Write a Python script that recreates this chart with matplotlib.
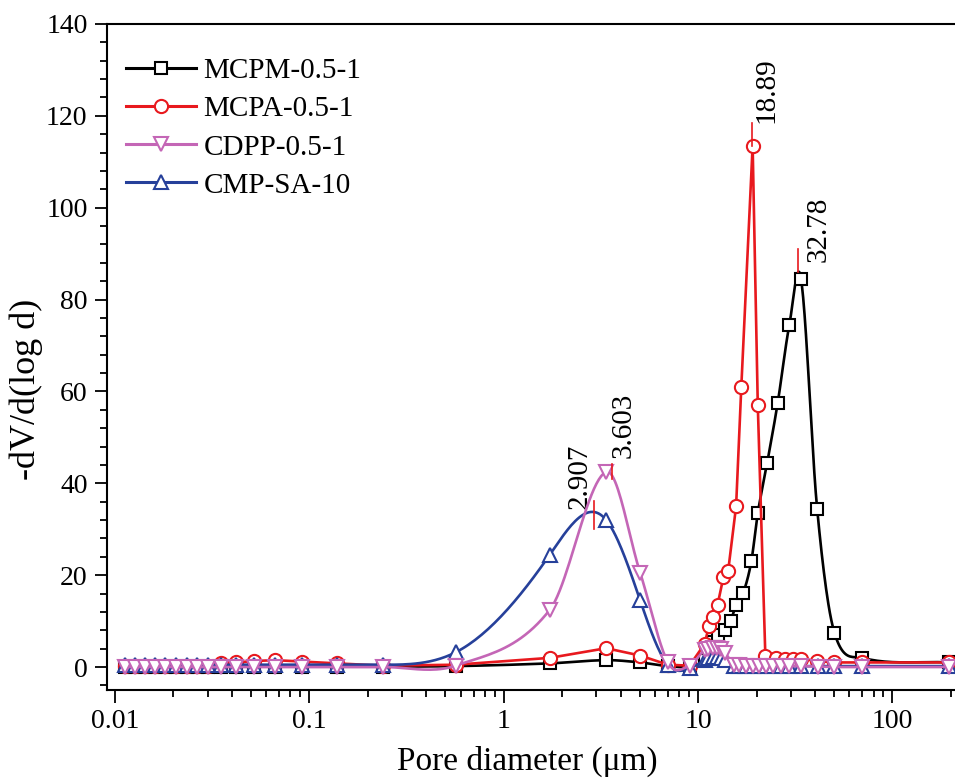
import numpy as np
import matplotlib
matplotlib.use("Agg")
import matplotlib.pyplot as plt
from matplotlib.lines import Line2D
from matplotlib.ticker import FixedLocator, MultipleLocator, LogLocator, NullFormatter

plt.rcParams['font.family'] = ['Liberation Serif', 'DejaVu Serif']

# pore diameters (um) shared by the low-pressure part of every run
d_low = [0.0113, 0.0127, 0.0143, 0.0161, 0.0181, 0.0206, 0.0234, 0.0264, 0.0301,
         0.0350, 0.0419, 0.0518, 0.0664, 0.0913, 0.138, 0.238, 0.566,
         1.73, 3.37, 5.04, 7.0, 9.04]

# MCPM-0.5-1
mcpm_d = d_low + [10.8, 11.4, 12.0, 12.6, 13.7, 14.7, 15.7, 17.1, 18.8, 20.3, 22.7,
                  25.7, 29.5, 33.9, 41.0, 50.3, 70.0, 195.0]
mcpm_v = [0.1] * 16 + [0.2, 0.8, 1.5, 1.0, 0.2, 0.1] + \
         [1.5, 4.5, 5.5, 7.0, 8.0, 10.0, 13.5, 16.2, 23.0, 33.5, 44.5,
          57.5, 74.5, 84.5, 34.5, 7.5, 2.0, 1.0]

# MCPA-0.5-1
mcpa_d = d_low + [10.8, 11.4, 12.0, 12.6, 13.5, 14.3, 15.7, 16.7, 19.1, 20.3, 22.2,
                  25.1, 27.9, 30.9, 33.9, 41.0, 50.3, 70.0, 195.0]
mcpa_v = [0.2] * 9 + [0.8, 1.0, 1.3, 1.5, 1.2, 0.8, 0.3, 0.5, 2.0, 4.1, 2.5, 0.5, 0.3] + \
         [5.0, 9.0, 11.0, 13.5, 19.5, 21.0, 35.0, 61.0, 113.5, 57.0, 2.5,
          2.0, 1.8, 1.8, 1.8, 1.3, 1.0, 1.0, 1.0]

# CDPP-0.5-1
cdpp_d = d_low + [10.8, 11.3, 11.9, 12.5, 13.1, 13.8, 15.4, 16.3, 17.7, 19.1, 20.7,
                  22.4, 24.3, 26.8, 29.5, 33.9, 41.3, 50.3, 70.0, 195.0]
cdpp_v = [0.0] * 16 + [0.3, 12.5, 42.5, 20.5, 1.0, 0.3] + \
         [3.8, 4.0, 4.1, 4.2, 4.0, 3.0, 0.5, 0.4, 0.3, 0.3, 0.3,
          0.3, 0.3, 0.3, 0.2, 0.2, 0.1, 0.0, 0.0, 0.0]

# CMP-SA-10
cmp_d = cdpp_d
cmp_v = [0.5] * 16 + [3.2, 24.5, 32.0, 14.5, 0.5, -0.3] + \
        [1.5, 2.0, 2.2, 2.2, 2.0, 1.5, 0.2, 0.2, 0.2, 0.2, 0.2,
         0.2, 0.2, 0.2, 0.2, 0.2, 0.2, 0.2, 0.2, 0.2]

# peak labels: position (um), marker line bottom/top
peak_pos = [18.89, 32.78, 3.603, 2.907]
peak_lo = [113.5, 86.0, 40.9, 30.0]
peak_hi = [118.5, 91.0, 44.1, 36.2]
peak_txt = ['18.89', '32.78', '3.603', '2.907']


def cardinal(x, y, n=24):
    """Catmull-Rom curve through the points, in log-x space."""
    lx = np.log10(np.asarray(x, float))
    y = np.asarray(y, float)
    m = np.empty_like(y)
    m[1:-1] = (y[2:] - y[:-2]) / (lx[2:] - lx[:-2])
    m[0] = (y[1] - y[0]) / (lx[1] - lx[0])
    m[-1] = (y[-1] - y[-2]) / (lx[-1] - lx[-2])
    xs, ys = [], []
    t = np.linspace(0, 1, n)
    for i in range(len(lx) - 1):
        h = lx[i + 1] - lx[i]
        h00 = 2 * t**3 - 3 * t**2 + 1
        h10 = t**3 - 2 * t**2 + t
        h01 = -2 * t**3 + 3 * t**2
        h11 = t**3 - t**2
        xs.append(lx[i] + t * h)
        ys.append(h00 * y[i] + h10 * h * m[i] + h01 * y[i + 1] + h11 * h * m[i + 1])
    return 10 ** np.concatenate(xs), np.concatenate(ys)


def natural(x, y, n=30):
    """Natural cubic spline through the points, in log-x space."""
    lx = np.log10(np.asarray(x, float))
    y = np.asarray(y, float)
    k = len(lx)
    h = np.diff(lx)
    A = np.zeros((k, k))
    b = np.zeros(k)
    A[0, 0] = A[-1, -1] = 1.0
    for i in range(1, k - 1):
        A[i, i - 1] = h[i - 1]
        A[i, i] = 2 * (h[i - 1] + h[i])
        A[i, i + 1] = h[i]
        b[i] = 6 * ((y[i + 1] - y[i]) / h[i] - (y[i] - y[i - 1]) / h[i - 1])
    M = np.linalg.solve(A, b)
    xs, ys = [], []
    t = np.linspace(0, 1, n)
    for i in range(k - 1):
        xx = lx[i] + t * h[i]
        a = lx[i + 1] - xx
        c = xx - lx[i]
        yy = (M[i] * a**3 + M[i + 1] * c**3) / (6 * h[i]) \
            + (y[i] / h[i] - M[i] * h[i] / 6) * a \
            + (y[i + 1] / h[i] - M[i + 1] * h[i] / 6) * c
        xs.append(xx)
        ys.append(yy)
    return 10 ** np.concatenate(xs), np.concatenate(ys)


def straight(x, y):
    return x, y


fig = plt.figure(figsize=(9.55, 7.81), dpi=100)
ax = fig.add_axes([107 / 955, 1 - 690 / 781, 848 / 955, 666 / 781])

series = [
    ('MCPM-0.5-1', mcpm_d, mcpm_v, '#000000', 's', 8, cardinal),
    ('MCPA-0.5-1', mcpa_d, mcpa_v, '#e8191e', 'o', 9.5, straight),
    ('CMP-SA-10', cmp_d, cmp_v, '#26409a', '^', 10, natural),
    ('CDPP-0.5-1', cdpp_d, cdpp_v, '#c466b6', 'v', 10, cardinal),
]

handles = {}
for z, (name, xd, yd, col, mk, ms, curve) in enumerate(series):
    sx, sy = curve(xd, yd)
    ax.plot(sx, sy, color=col, lw=1.9, zorder=2 + z)
    ax.plot(xd, yd, ls='none', marker=mk, ms=ms, mfc='white', mec=col, mew=1.5,
            zorder=2 + z)
    handles[name] = Line2D([], [], color=col, lw=2.2, marker=mk, ms=ms,
                           mfc='white', mec=col, mew=1.5)

# peak markers and labels
for p, lo, hi in zip(peak_pos, peak_lo, peak_hi):
    ax.plot([p, p], [lo, hi], color='#e8191e', lw=1.2, zorder=8)

ax.annotate(peak_txt[0], (peak_pos[0], peak_hi[0]), xytext=(1, 0),
            textcoords='offset points', rotation=90, ha='left', va='bottom', fontsize=21)
ax.annotate(peak_txt[1], (peak_pos[1], peak_hi[1]), xytext=(5, -9),
            textcoords='offset points', rotation=90, ha='left', va='bottom', fontsize=21)
ax.annotate(peak_txt[2], (peak_pos[2], peak_hi[2]), xytext=(-1, 5),
            textcoords='offset points', rotation=90, ha='left', va='bottom', fontsize=21)
ax.annotate(peak_txt[3], (peak_pos[3], peak_hi[3]), xytext=(-1, -6),
            textcoords='offset points', rotation=90, ha='right', va='bottom', fontsize=21)

order = ['MCPM-0.5-1', 'MCPA-0.5-1', 'CDPP-0.5-1', 'CMP-SA-10']
ax.legend([handles[k] for k in order], order, loc='upper left',
          bbox_to_anchor=(19 / 848, 1 - 34 / 666), frameon=False, fontsize=21,
          numpoints=1, handlelength=2.4, handletextpad=0.25, labelspacing=0.4,
          borderpad=0, borderaxespad=0)

ax.set_xscale('log')
ax.set_xlim(0.0091, 210)
ax.set_ylim(-5, 140)
ax.xaxis.set_major_locator(FixedLocator([0.01, 0.1, 1, 10, 100]))
ax.set_xticklabels(['0.01', '0.1', '1', '10', '100'])
ax.xaxis.set_minor_locator(LogLocator(base=10, subs=np.arange(2, 10)))
ax.xaxis.set_minor_formatter(NullFormatter())
ax.yaxis.set_major_locator(MultipleLocator(20))
ax.yaxis.set_minor_locator(MultipleLocator(4))

ax.spines['right'].set_visible(False)
for sp in ['left', 'bottom', 'top']:
    ax.spines[sp].set_linewidth(1.5)
ax.tick_params(which='both', direction='out', top=False, right=False, width=1.3)
ax.tick_params(which='major', length=9, labelsize=20, pad=5)
ax.tick_params(which='minor', length=5)

ax.set_xlabel('Pore diameter (\u03bcm)', fontsize=24)
ax.set_ylabel('-dV/d(log d)', fontsize=26)
# label placement in axes fractions
ax.xaxis.set_label_coords(420 / 848, -56 / 666)
ax.yaxis.set_label_coords(-64 / 848, 0.451)

fig.savefig('out.png', dpi=100)
